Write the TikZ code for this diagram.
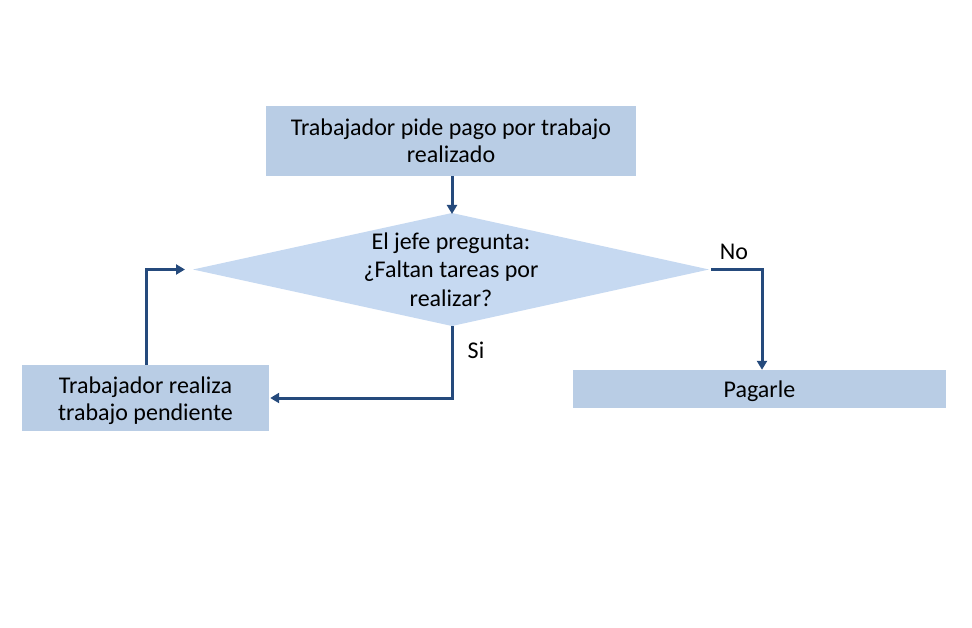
\documentclass[tikz,border=0pt]{standalone}
\usepackage{fontspec}
\setmainfont{Carlito}
\usetikzlibrary{arrows.meta}
\definecolor{boxfill}{HTML}{B9CDE5}
\definecolor{diafill}{HTML}{C6D9F1}
\definecolor{linec}{HTML}{254A7C}
\tikzset{
  box/.style={fill=boxfill, draw=none, inner sep=0pt, align=center, font=\fontsize{24}{27}\selectfont},
  conn/.style={draw=linec, line width=3pt, -{Triangle[length=9pt,width=10pt]}},
  lbl/.style={font=\fontsize{24}{27}\selectfont, inner sep=0pt}
}
\begin{document}
\begin{tikzpicture}[x=1pt,y=-1pt]
\useasboundingbox (0,0) rectangle (972,628);
% top box
\node[box, minimum width=370pt, minimum height=70pt] (top) at (451,141) {Trabajador pide pago por trabajo\\realizado};
% diamond
\coordinate (dT) at (452,213);
\coordinate (dB) at (452,326);
\coordinate (dL) at (193,269.5);
\coordinate (dR) at (709,269.5);
\fill[diafill] (dT) -- (dR) -- (dB) -- (dL) -- cycle;
\node[align=center, inner sep=0pt, font=\fontsize{24}{28.5}\selectfont] (dq) at (451,269.5) {El jefe pregunta:\\¿Faltan tareas por\\realizar?};
% left box
\node[box, minimum width=247pt, minimum height=66pt, text depth=0pt] (left) at (145.5,398) {};
\node[box, fill=none] (lefttext) at (145.5,400.5) {Trabajador realiza\\trabajo pendiente};
% right box
\node[box, minimum width=373pt, minimum height=38pt] (pay) at (759.5,389) {};
\node[box, fill=none] (paytext) at (759.5,391) {Pagarle};
% connectors
\draw[conn] (top.south -| dT) -- ([yshift=-1pt]dT);
\draw[conn] (dB) |- ([xshift=1pt]left.east);
\draw[conn] (left.north -| 146,0) |- ([xshift=-8pt]dL);
\coordinate (rc) at (762,269.5);
\draw[conn] ([xshift=2pt]dR) -| (pay.north -| rc);
% labels
\node[lbl] (si) at (476,350) {Si};
\node[lbl] (no) at (734,252) {No};
\end{tikzpicture}
\end{document}
